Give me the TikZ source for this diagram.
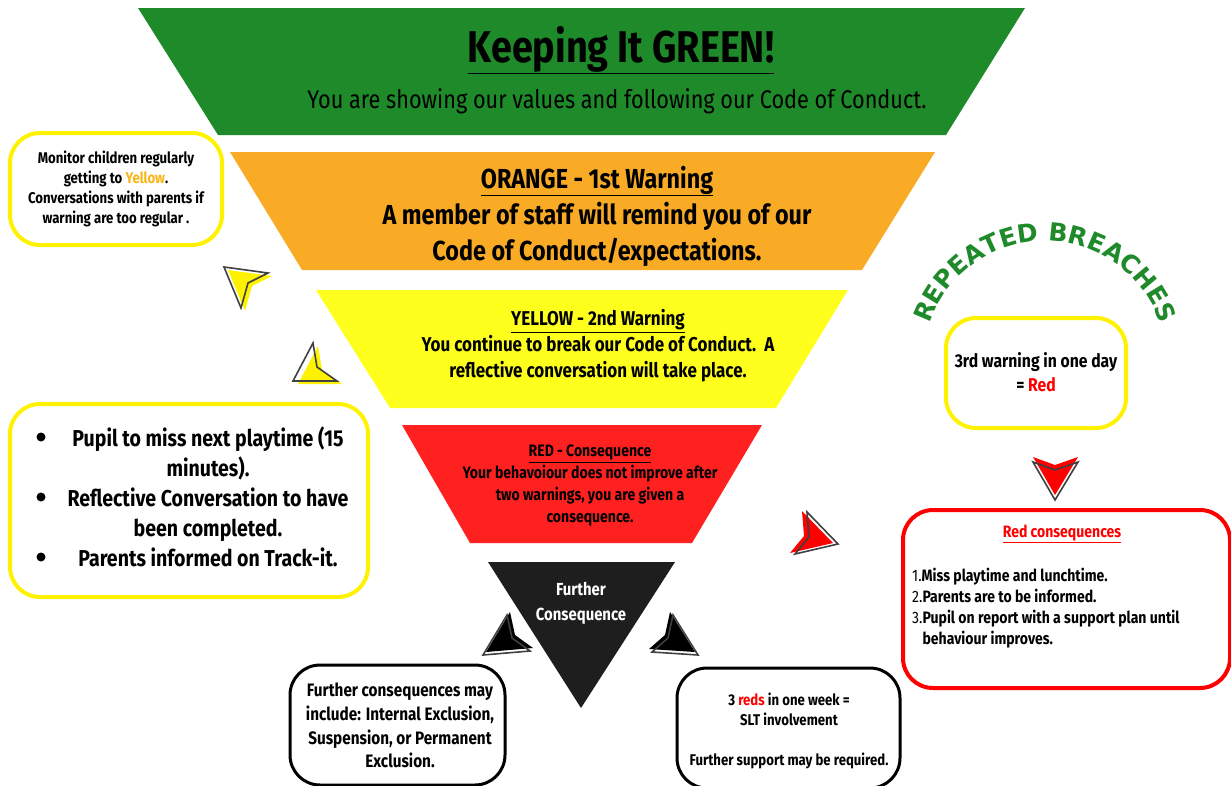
\documentclass[tikz,border=0pt]{standalone}
\usepackage{fontspec}
\setmainfont{Fira Sans}[FakeStretch=0.85]
\newfontfamily\breachfont{DejaVu Sans}
\usepackage{xcolor}
\usetikzlibrary{positioning, arrows.meta, shapes.geometric, decorations.text}

\definecolor{tiergreen}{RGB}{31,138,42}
\definecolor{tierorange}{RGB}{249,171,38}
\definecolor{tieryellow}{RGB}{255,255,30}
\definecolor{tierred}{RGB}{255,32,32}
\definecolor{tierblack}{RGB}{30,30,30}
\definecolor{boxyellow}{RGB}{255,242,0}
\definecolor{txtorange}{RGB}{250,180,20}

% font size and line distance in one go
\newcommand{\fs}[2]{\bfseries\fontsize{#1}{#2}\selectfont}

% pointer icon: fill colour, shadow shift, then the four corners
\newcommand{\pointer}[6]{%
  \fill[#1, shift={#2}] #3 -- #4 -- #5 -- #6 -- cycle;
  \draw[line width=1.6pt, black!75, line join=miter] #3 -- #4 -- #5 -- #6 -- cycle;}

\begin{document}
\begin{tikzpicture}[x=1pt, y=-1pt, every node/.style={align=center, inner sep=0pt},
    notebox/.style={draw, rounded corners=30pt, line width=4pt},
    yellownote/.style={notebox, draw=boxyellow},
    rednote/.style={notebox, draw=red},
    blacknote/.style={notebox, draw=black, line width=3pt}]
    \useasboundingbox (0,0) rectangle (1231,785);
    % Tiers
    \fill[tiergreen] (138,8) -- (1025,8) -- (946,135) -- (218,135) -- cycle;
    \fill[tierorange] (230,152) -- (935,152) -- (862,270) -- (302,270) -- cycle;
    \fill[tieryellow] (316,290) -- (848,290) -- (776,408) -- (390,408) -- cycle;
    \fill[tierred] (402,425) -- (762,425) -- (692,543) -- (470,543) -- cycle;
    \fill[tierblack] (488,562) -- (675,562) -- (581,708) -- cycle;
    % Tier texts
    \node[font=\fs{44.5}{52}] (greentitle) at (621,50) {\underline{Keeping It GREEN!}};
    \node[font=\fs{25.5}{32}\mdseries] (greentext) at (617,101) {You are showing our values and following our Code of Conduct.};
    \node[font=\fs{27.5}{36}] (orangetext) at (597,216) {\underline{ORANGE - 1st Warning}\\ A member of staff will remind you of our\\ Code of Conduct/expectations.};
    \node[font=\fs{20}{26}] (yellowtext) at (598,346) {\underline{YELLOW - 2nd Warning}\\ You continue to break our Code of Conduct.\ \ A\\ reflective conversation will take place.};
    \node[font=\fs{16.5}{21.7}] (redtext) at (590,485.5) {\underline{RED - Consequence}\\ Your behavoiour does not improve after\\ two warnings, you are given a\\ consequence.};
    \node[font=\fs{17.5}{25}, text=white] (blacktext) at (581,603.5) {Further\\ Consequence};
    % Side notes
    \node[yellownote, minimum width=212pt, minimum height=112pt] (monitorbox) at (116,189) {};
    \node[font=\fs{15.5}{20}] (monitortext) at (monitorbox) {Monitor children regularly\\ getting to \textcolor{txtorange}{Yellow}.\\ Conversations with parents if\\ warning are too regular .};
    \node[yellownote, minimum width=358pt, minimum height=193pt] (missbox) at (189,500.5) {};
    \node[font=\fs{23}{30}] (misstext) at (208,497) {Pupil to miss next playtime (15\\ minutes).\\ Reflective Conversation to have\\ been completed.\\ Parents informed on Track-it.};
    \foreach \y/\n in {437/a, 497/b, 557/c}
        \fill (41,\y) circle[radius=4.5pt] coordinate (bullet\n);
    \node[yellownote, minimum width=180pt, minimum height=110pt] (thirdbox) at (1036,373) {};
    \node[font=\fs{18.5}{24}] (thirdtext) at (1036,372) {3rd warning in one day\\ = \textcolor{red}{Red}};
    \node[rednote, minimum width=327pt, minimum height=178pt] (redbox) at (1066.5,599) {};
    \node[font=\fs{16.5}{20}, text=red] (redtitle) at (1062,534) {\underline{Red consequences}};
    \node[font=\fs{16.5}{21}, anchor=west, align=left] (redlist) at (912,608.5) {{\mdseries 1.}Miss playtime and lunchtime.\\ {\mdseries 2.}Parents are to be informed.\\ {\mdseries 3.}Pupil on report with a support plan until\\ \phantom{\mdseries 3.}behaviour improves.};
    \node[blacknote, minimum width=215pt, minimum height=120pt] (exclbox) at (397.5,725) {};
    \node[font=\fs{18}{23.7}] (excltext) at (400,725.5) {Further consequences may\\ include: Internal Exclusion,\\ Suspension, or Permanent\\ Exclusion.};
    \node[blacknote, minimum width=223pt, minimum height=120pt] (sltbox) at (788.5,728) {};
    \node[font=\fs{15.5}{20}] (slttext) at (789,730.5) {3 \textcolor{red}{reds} in one week =\\ SLT involvement\\[20pt] Further support may be required.};
    % Repeated breaches
    \path[decorate, decoration={text along path, text align=center, text color=tiergreen,
        text={|\breachfont\bfseries\fontsize{25}{25}\selectfont|REPEATED BREACHES}}]
        (1045,363) ++(167:122pt) arc[start angle=167, end angle=13, radius=122pt];
    % Pointers
    \pointer{yellow}{(4,3)}{(224,267)}{(268,273)}{(248,283)}{(241,308)}
    \pointer{yellow}{(5,3)}{(313,343)}{(293,381)}{(337,381)}{(317,367)}
    \pointer{red}{(-5,-1)}{(807,512)}{(838,544)}{(795,554)}{(809,537)}
    \pointer{red}{(0,-5)}{(1033,462)}{(1055,470)}{(1078,462)}{(1055,500)}
    \pointer{black}{(3,-3)}{(507,615)}{(483,655)}{(530,651)}{(512,638)}
    \pointer{black}{(-3,-3)}{(673,615)}{(698,655)}{(652,652)}{(668,638)}
\end{tikzpicture}
\end{document}
